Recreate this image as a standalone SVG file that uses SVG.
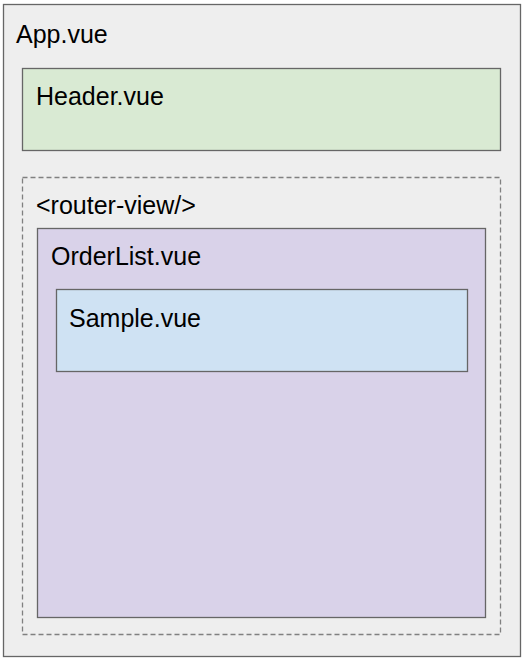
<svg xmlns="http://www.w3.org/2000/svg" width="524" height="660" viewBox="0 0 524 660">
<style>
.box{stroke:#666666;stroke-width:1.3}
.lbl{font-family:"Liberation Sans",Arial,sans-serif;font-size:25px;fill:#000}
</style>
<rect width="524" height="660" fill="#ffffff"/>
<g id="app">
<rect class="box" x="3.5" y="4.5" width="517" height="652" fill="#eeeeee"/>
<text class="lbl" x="16" y="43">App.vue</text>
</g>
<g id="header">
<rect class="box" x="22.5" y="68.5" width="478" height="82" fill="#d9ead3"/>
<text class="lbl" x="36" y="105">Header.vue</text>
</g>
<g id="router-view">
<rect x="22.5" y="177.5" width="478" height="457" fill="none" stroke="#808080" stroke-width="1.3" stroke-dasharray="5,3"/>
<text class="lbl" x="36" y="214">&lt;router-view/&gt;</text>
</g>
<g id="orderlist">
<rect class="box" x="37.5" y="228.5" width="448" height="389" fill="#d9d2e9"/>
<text class="lbl" x="51" y="265">OrderList.vue</text>
</g>
<g id="sample">
<rect class="box" x="56.5" y="289.5" width="411" height="82" fill="#cfe2f3"/>
<text class="lbl" x="69" y="327">Sample.vue</text>
</g>
<g id="connectors"/>
</svg>
